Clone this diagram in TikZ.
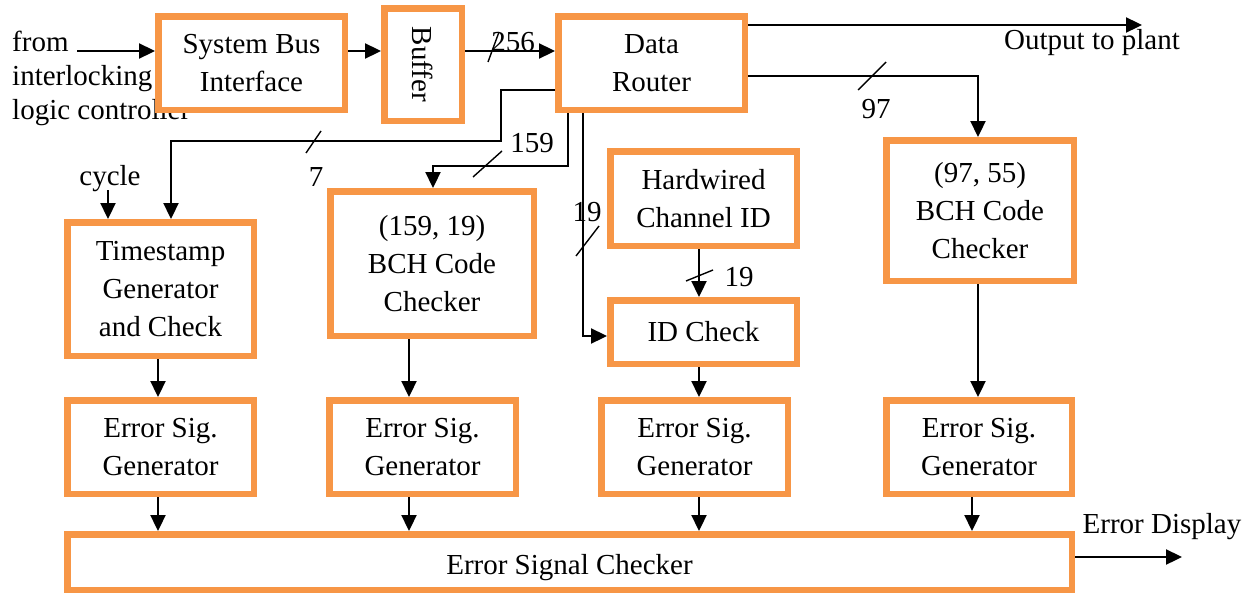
\documentclass[tikz,border=0pt]{standalone}
\usepackage{fontspec}
\setmainfont{Liberation Serif}
\usetikzlibrary{arrows.meta}
\definecolor{boxorange}{HTML}{F79646}
\begin{document}
\begin{tikzpicture}[x=1pt,y=-1pt,
  every node/.style={font=\fontsize{29}{38}\selectfont, inner sep=0pt},
  blk/.style={draw=boxorange, line width=6.5pt, fill=white, align=center},
  conn/.style={line width=2.3pt, -{Triangle[length=16pt,width=15pt]}},
  slash/.style={line width=1.4pt}]
\useasboundingbox (0,0) rectangle (1256,597);

% input text (partly covered by the interface box)
\node[align=left, anchor=west, font=\fontsize{29}{34}\selectfont] (src) at (12,78)
  {from\\interlocking\\logic controller};

% blocks
\node[blk, minimum width=186.5pt, minimum height=93.5pt] (sbi) at (251.5,63) {System Bus\\Interface};
\node[blk, minimum width=77.5pt, minimum height=112.5pt] (buf) at (423,64.5) {};
\node[rotate=-90] (buftxt) at (423,64.5) {Buffer};
\node[blk, minimum width=186.5pt, minimum height=93.5pt] (router) at (651.5,63) {Data\\Router};
\node[blk, minimum width=186.5pt, minimum height=133.5pt] (ts) at (160.5,289) {Timestamp\\Generator\\and Check};
\node[blk, minimum width=203.5pt, minimum height=144.5pt] (bcha) at (432,263.5) {(159, 19)\\BCH Code\\Checker};
\node[blk, minimum width=186.5pt, minimum height=94.5pt] (hw) at (703.5,198.5) {Hardwired\\Channel ID};
\node[blk, minimum width=186.5pt, minimum height=63.5pt] (idc) at (703.5,332) {ID Check};
\node[blk, minimum width=187.5pt, minimum height=140.5pt] (bchb) at (980,210.5) {(97, 55)\\BCH Code\\Checker};
\node[blk, minimum width=186.5pt, minimum height=93.5pt] (gena) at (160.5,447) {Error Sig.\\Generator};
\node[blk, minimum width=186.5pt, minimum height=93.5pt] (genb) at (422.5,447) {Error Sig.\\Generator};
\node[blk, minimum width=186.5pt, minimum height=93.5pt] (genc) at (694.5,447) {Error Sig.\\Generator};
\node[blk, minimum width=185.5pt, minimum height=93.5pt] (gend) at (979,447) {Error Sig.\\Generator};
\node[blk, minimum width=1004.5pt, minimum height=55.5pt] (esc) at (569.5,562)
  {\raisebox{-6pt}[\height][\depth]{Error Signal Checker}};

% route points
\coordinate (inS) at (77,51);
\coordinate (outP) at (1142,25);
\coordinate (k97) at (978,76);
\coordinate (t1) at (501,90);
\coordinate (t2) at (171,141);
\coordinate (b1) at (568,166);
\coordinate (b2) at (433,166);
\coordinate (c1) at (583,336);
\coordinate (d1) at (699,0);
\coordinate (cy) at (108,190);
\coordinate (xa) at (158,0);
\coordinate (xb) at (409,0);
\coordinate (xc) at (699,0);
\coordinate (xd) at (978,0);
\coordinate (xe) at (972,0);
\coordinate (eo) at (1182,557);

% top chain
\draw[conn] (inS) -- (inS -| sbi.west);
\draw[conn] (sbi.east |- inS) -- (buf.west |- inS);
\draw[conn] (buf.east |- inS) -- (router.west |- inS);
\draw[slash] (488,62) -- (499,32);
\node (n256) at (513,42) {256};

% router outputs
\draw[conn] (router.east |- outP) -- (outP);
\node (outtxt) at (1092,43) {Output to plant};

\draw[conn] (router.east |- k97) -- (k97) -- (k97 |- bchb.north);
\draw[slash] (858,90) -- (886,62);
\node (n97) at (876,109) {97};

\draw[conn] (router.west |- t1) -- (t1) |- (t2) -- (t2 |- ts.north);
\draw[slash] (306,153) -- (321,131);
\node (n7) at (316,177) {7};

\draw[conn] (b1 |- router.south) -- (b1) -- (b2) -- (b2 |- bcha.north);
\draw[slash] (473,177) -- (502,151);
\node (n159) at (532,143) {159};

\draw[conn] (c1 |- router.south) -- (c1) -- (c1 -| idc.west);
\draw[slash] (576,256) -- (599,226);
\node (n19a) at (587,212) {19};

\draw[conn] (hw.south -| d1) -- (idc.north -| d1);
\draw[slash] (686,281) -- (713,270);
\node (n19b) at (739,277) {19};

% cycle input
\node (cyc) at (110,179) {cycle};
\draw[conn] (cy) -- (cy |- ts.north);

% checkers to error generators
\draw[conn] (ts.south -| xa) -- (gena.north -| xa);
\draw[conn] (bcha.south -| xb) -- (genb.north -| xb);
\draw[conn] (idc.south -| xc) -- (genc.north -| xc);
\draw[conn] (bchb.south -| xd) -- (gend.north -| xd);

% error generators to error signal checker
\draw[conn] (gena.south -| xa) -- (esc.north -| xa);
\draw[conn] (genb.south -| xb) -- (esc.north -| xb);
\draw[conn] (genc.south -| xc) -- (esc.north -| xc);
\draw[conn] (gend.south -| xe) -- (esc.north -| xe);

% error display output
\draw[conn] (esc.east |- eo) -- (eo);
\node (edtxt) at (1162,527) {Error Display};
\end{tikzpicture}
\end{document}
